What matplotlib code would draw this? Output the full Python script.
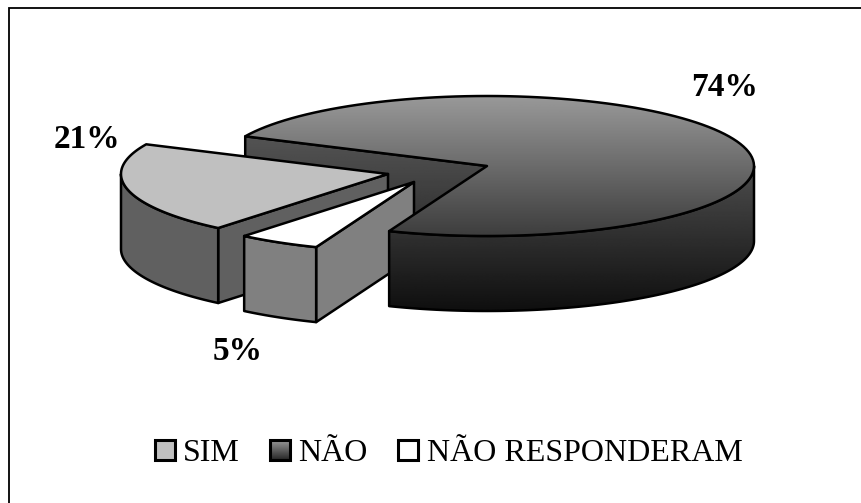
import numpy as np
import matplotlib
matplotlib.use("Agg")
import matplotlib.pyplot as plt
from matplotlib.patches import Polygon, Rectangle

# ─── Survey data ──────────────────────────────────────────────────────────────

categories = ["SIM", "NÃO", "NÃO RESPONDERAM"]
percentages = [21, 74, 5]

# ─── Pie geometry (pixels) ────────────────────────────────────────────────────

CENTER = (487, 166)
RX, RY = 267, 70
DEPTH = 75
START_ANGLE = 230.5
EXPLODE = {"SIM": (-99, 8), "NÃO": (0, 0), "NÃO RESPONDERAM": (-73, 16)}
LW = 1.8

plt.rcParams["font.family"] = ["Liberation Serif", "DejaVu Serif"]

fig = plt.figure(figsize=(8.61, 5.03), dpi=100)
ax = fig.add_axes([0, 0, 1, 1])
ax.axis("off")


def angle_spans():
    # slices run clockwise from the start angle
    spans = {}
    a = START_ANGLE
    for cat, pct in zip(categories, percentages):
        b = a - pct * 3.6
        spans[cat] = (a, b)
        a = b
    return spans


def point(cat, deg, drop=0):
    dx, dy = EXPLODE[cat]
    t = np.radians(deg)
    return (CENTER[0] + dx + RX * np.cos(t), CENTER[1] + dy - RY * np.sin(t) + drop)


def apex(cat, drop=0):
    dx, dy = EXPLODE[cat]
    return (CENTER[0] + dx, CENTER[1] + dy + drop)


def arc(cat, a, b, drop=0):
    return [point(cat, d, drop) for d in np.linspace(a, b, 120)]


def top_face(cat, a, b):
    return [apex(cat)] + arc(cat, a, b)


def cut_face(cat, deg):
    return [apex(cat), point(cat, deg), point(cat, deg, DEPTH), apex(cat, DEPTH)]


def wall(cat, a, b):
    return arc(cat, a, b) + arc(cat, b, a, DEPTH)


def fill(pts, color, z):
    p = Polygon(pts, closed=True, facecolor=color, edgecolor="black", lw=LW,
                joinstyle="round", zorder=z)
    ax.add_patch(p)
    return p


def gradient_fill(pts, y0, y1, c0, c1, z):
    # vertical grey ramp clipped to the outline, outline drawn on top
    ramp = np.linspace(c0, c1, 256).reshape(-1, 1)
    xs = [p[0] for p in pts]
    p = Polygon(pts, closed=True, facecolor="none", edgecolor="black", lw=LW,
                joinstyle="round", zorder=z + 0.1)
    ax.add_patch(p)
    im = ax.imshow(ramp, cmap="gray", vmin=0, vmax=1, aspect="auto",
                   extent=(min(xs) - 2, max(xs) + 2, y1, y0), zorder=z)
    im.set_clip_path(p)


spans = angle_spans()

# back cut face of the big slice
a_no, b_no = spans["NÃO"]
gradient_fill(cut_face("NÃO", a_no), 135, 310, 0.33, 0.07, 1)

# SIM slice
a, b = spans["SIM"]
fill(cut_face("SIM", a), "#606060", 2)
fill(wall("SIM", a, 180), "#606060", 2.2)
fill(top_face("SIM", a, b), "#C0C0C0", 2.4)

# NÃO RESPONDERAM slice
a, b = spans["NÃO RESPONDERAM"]
fill(cut_face("NÃO RESPONDERAM", a), "#808080", 3)
fill(wall("NÃO RESPONDERAM", a, b), "#808080", 3.2)
fill(top_face("NÃO RESPONDERAM", a, b), "#FFFFFF", 3.4)

# front wall and top of the big slice
gradient_fill(wall("NÃO", b_no + 360, 360), 150, 310, 0.33, 0.06, 4)
gradient_fill(top_face("NÃO", a_no, b_no), 96, 236, 0.60, 0.24, 5)

# ─── Value labels ─────────────────────────────────────────────────────────────

label_pos = {"SIM": (87, 139), "NÃO": (725, 87), "NÃO RESPONDERAM": (238, 352)}
for cat, pct in zip(categories, percentages):
    x, y = label_pos[cat]
    ax.text(x, y, f"{pct}%", ha="center", va="center", fontsize=24,
            fontweight="bold", zorder=6)

# ─── Legend ───────────────────────────────────────────────────────────────────

legend_x = {"SIM": 155, "NÃO": 270, "NÃO RESPONDERAM": 398}
legend_text_x = {"SIM": 183, "NÃO": 298, "NÃO RESPONDERAM": 427}
legend_fill = {"SIM": "#C0C0C0", "NÃO RESPONDERAM": "#FFFFFF"}
BOX = 20
for cat in categories:
    x = legend_x[cat]
    if cat == "NÃO":
        ax.add_patch(Rectangle((x, 440), BOX, BOX, facecolor="none",
                               edgecolor="black", lw=LW + 0.4, zorder=7))
        ramp = np.linspace(0.6, 0.15, 64).reshape(-1, 1)
        ax.imshow(ramp, cmap="gray", vmin=0, vmax=1, aspect="auto",
                  extent=(x, x + BOX, 440 + BOX, 440), zorder=6.5)
    else:
        ax.add_patch(Rectangle((x, 440), BOX, BOX, facecolor=legend_fill[cat],
                               edgecolor="black", lw=LW + 0.4, zorder=7))
    ax.text(legend_text_x[cat], 461, cat, ha="left", va="baseline", fontsize=23, zorder=7)

# chart frame only shows along the top and left
ax.plot([861, 8.5, 8.5], [7.5, 7.5, 503], color="black", lw=1.3, zorder=8,
        solid_joinstyle="miter")

ax.set_xlim(0, 861)
ax.set_ylim(503, 0)
fig.savefig("out.png", dpi=100, facecolor="white")
